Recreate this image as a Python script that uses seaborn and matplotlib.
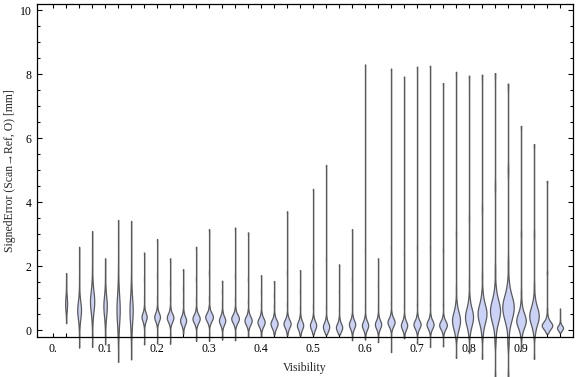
import numpy as np
import matplotlib.pyplot as plt
import seaborn as sns

# visibility bins (one violin each)
visibility = [0.025, 0.05, 0.075, 0.1, 0.125, 0.15, 0.175, 0.2, 0.225, 0.25,
              0.275, 0.3, 0.325, 0.35, 0.375, 0.4, 0.425, 0.45, 0.475, 0.5,
              0.525, 0.55, 0.575, 0.6, 0.625, 0.65, 0.675, 0.7, 0.725, 0.75,
              0.775, 0.8, 0.825, 0.85, 0.875, 0.9, 0.925, 0.95, 0.975]

# signed error levels [mm], min ... max
signed_error = [
    [0.22, 0.45, 0.6, 0.72, 0.84, 0.96, 1.1, 1.28, 1.45, 1.62, 1.79],
    [-0.54, 0.05, 0.3, 0.48, 0.63, 0.78, 0.95, 1.2, 1.6, 2.1, 2.61],
    [-0.52, 0.2, 0.5, 0.72, 0.9, 1.08, 1.3, 1.6, 2.0, 2.5, 3.10],
    [-0.44, 0.1, 0.38, 0.58, 0.75, 0.92, 1.1, 1.35, 1.65, 1.95, 2.25],
    [-0.99, -0.3, 0.1, 0.4, 0.65, 0.9, 1.2, 1.6, 2.1, 2.8, 3.45],
    [-0.91, -0.25, 0.1, 0.4, 0.62, 0.85, 1.15, 1.55, 2.1, 2.8, 3.42],
    [-0.44, 0.15, 0.26, 0.35, 0.42, 0.49, 0.58, 0.72, 1.0, 1.6, 2.43],
    [-0.41, 0.17, 0.27, 0.35, 0.42, 0.49, 0.58, 0.72, 1.0, 1.7, 2.85],
    [-0.42, 0.15, 0.25, 0.33, 0.40, 0.47, 0.56, 0.7, 1.0, 1.5, 2.25],
    [-0.10, 0.06, 0.16, 0.24, 0.31, 0.38, 0.47, 0.6, 0.9, 1.3, 1.91],
    [-0.33, 0.12, 0.22, 0.30, 0.37, 0.44, 0.53, 0.67, 0.95, 1.6, 2.61],
    [-0.33, 0.17, 0.27, 0.35, 0.42, 0.49, 0.58, 0.72, 1.0, 1.8, 3.16],
    [-0.29, 0.06, 0.16, 0.24, 0.31, 0.38, 0.47, 0.6, 0.85, 1.2, 1.55],
    [-0.31, 0.12, 0.22, 0.30, 0.37, 0.44, 0.53, 0.67, 0.95, 1.7, 3.21],
    [-0.21, 0.06, 0.16, 0.24, 0.31, 0.38, 0.47, 0.6, 0.9, 1.6, 3.06],
    [-0.19, 0.01, 0.11, 0.19, 0.26, 0.33, 0.42, 0.55, 0.8, 1.2, 1.72],
    [-0.13, -0.04, 0.06, 0.14, 0.21, 0.28, 0.37, 0.5, 0.75, 1.1, 1.54],
    [-0.15, -0.04, 0.06, 0.14, 0.21, 0.28, 0.37, 0.5, 0.8, 1.8, 3.72],
    [-0.16, -0.09, 0.01, 0.09, 0.16, 0.23, 0.32, 0.45, 0.7, 1.2, 1.88],
    [-0.13, -0.09, 0.01, 0.09, 0.16, 0.23, 0.32, 0.45, 0.75, 2.0, 4.42],
    [-0.13, -0.08, -0.02, 0.05, 0.12, 0.19, 0.28, 0.41, 0.7, 2.2, 5.17],
    [-0.13, -0.08, -0.03, 0.04, 0.10, 0.17, 0.26, 0.39, 0.65, 1.2, 2.06],
    [-0.31, -0.06, 0.04, 0.12, 0.19, 0.26, 0.35, 0.48, 0.75, 1.6, 3.16],
    [-0.29, -0.09, 0.01, 0.09, 0.16, 0.23, 0.32, 0.45, 0.75, 2.5, 8.31],
    [-0.37, -0.06, 0.04, 0.12, 0.19, 0.26, 0.35, 0.48, 0.75, 1.4, 2.25],
    [-0.68, 0.01, 0.11, 0.19, 0.26, 0.33, 0.42, 0.55, 0.85, 2.6, 8.18],
    [-0.25, -0.09, 0.01, 0.09, 0.16, 0.23, 0.32, 0.45, 0.75, 2.4, 7.93],
    [-0.41, -0.06, 0.04, 0.12, 0.19, 0.26, 0.35, 0.48, 0.8, 2.6, 8.24],
    [-0.52, -0.06, 0.04, 0.12, 0.19, 0.26, 0.35, 0.48, 0.8, 2.6, 8.27],
    [-0.50, -0.08, 0.02, 0.10, 0.17, 0.24, 0.33, 0.46, 0.8, 2.5, 7.73],
    [-0.86, -0.2, 0.0, 0.16, 0.31, 0.45, 0.62, 0.85, 1.3, 3.0, 8.08],
    [-0.70, -0.12, 0.1, 0.27, 0.42, 0.57, 0.75, 1.0, 1.5, 3.5, 7.96],
    [-0.89, -0.15, 0.15, 0.35, 0.52, 0.68, 0.88, 1.15, 1.7, 3.8, 7.99],
    [-1.46, -0.3, 0.15, 0.4, 0.6, 0.78, 1.0, 1.3, 1.9, 4.5, 8.04],
    [-1.46, -0.35, 0.2, 0.48, 0.7, 0.9, 1.12, 1.45, 2.1, 5.0, 7.71],
    [-0.63, -0.15, 0.05, 0.19, 0.31, 0.44, 0.6, 0.82, 1.2, 3.0, 6.39],
    [-0.89, -0.12, 0.12, 0.3, 0.45, 0.6, 0.78, 1.0, 1.4, 3.0, 5.82],
    [-0.10, -0.05, 0.03, 0.10, 0.16, 0.23, 0.32, 0.45, 0.65, 1.8, 4.67],
    [-0.08, -0.04, 0.0, 0.04, 0.08, 0.12, 0.17, 0.24, 0.35, 0.5, 0.68],
]

# how many samples sit at each of the levels above
level_counts = [1, 2, 4, 7, 8, 7, 4, 2, 1, 1, 1]

# relative sample weight of each bin
rel_weight = [0.17, 0.33, 0.37, 0.30, 0.28, 0.28, 0.45, 0.50, 0.58, 0.53,
              0.63, 0.67, 0.55, 0.67, 0.63, 0.63, 0.62, 0.62, 0.55, 0.55,
              0.55, 0.55, 0.55, 0.55, 0.55, 0.62, 0.55, 0.62, 0.62, 0.67,
              0.70, 0.70, 0.78, 0.88, 1.00, 0.83, 0.83, 0.92, 0.53]

xtick_vals = [0.0, 0.1, 0.2, 0.3, 0.4, 0.5, 0.6, 0.7, 0.8, 0.9]
xtick_labels = ["0.", "0.1", "0.2", "0.3", "0.4", "0.5", "0.6", "0.7", "0.8", "0.9"]
ytick_vals = [0, 2, 4, 6, 8, 10]

sns.set_style("ticks")
plt.rcParams["font.family"] = ["Liberation Serif", "DejaVu Serif"]

fig = plt.figure(figsize=(5.76, 3.77), dpi=100)
ax = fig.add_axes([37 / 576, 40 / 377, 536 / 576, 333 / 377])


def iqr_bw(kde):
    # bandwidth tied to the interquartile range, so long tails don't blur the bulb
    d = kde.dataset.ravel()
    q1, q3 = np.percentile(d, [25, 75])
    return 0.55 * (q3 - q1) / d.std(ddof=1)


for pos, levels, w in zip(visibility, signed_error, rel_weight):
    vals = np.repeat(levels, level_counts)
    sns.violinplot(x=np.full(len(vals), pos), y=vals, native_scale=True, orient="x",
                   ax=ax, width=0.022 * w, density_norm="width", cut=0,
                   bw_method=iqr_bw, gridsize=500, inner=None,
                   color="#CBD2F7", saturation=1, linecolor="#5a5a5a", linewidth=0.9)

for c in ax.collections:
    c.set_clip_on(False)

ax.set_xlim(-0.031, 1.0)
ax.set_ylim(-0.21, 10.2)
ax.set_xticks(xtick_vals)
ax.set_xticklabels(xtick_labels)
ax.set_xticks(np.arange(0.025, 1.0, 0.025), minor=True)
ax.set_yticks(ytick_vals)
ax.set_yticklabels([str(v) for v in ytick_vals])
ax.set_yticks(np.arange(0.5, 10.0, 0.5), minor=True)

ax.tick_params(axis="both", which="both", direction="in", top=True, right=True,
               width=0.8, color="black", labelsize=8.5, labelcolor="black")
ax.tick_params(axis="x", which="both", length=2.6, pad=4.5)
ax.tick_params(axis="y", which="major", length=3.8, pad=3.8)
ax.tick_params(axis="y", which="minor", length=1.9)
for s in ax.spines.values():
    s.set_linewidth(0.9)
    s.set_color("black")

ax.set_xlabel("Visibility", fontsize=8.5, labelpad=5)
ax.set_ylabel("SignedError (Scan\u2192Ref, O) [mm]", fontsize=8.5, labelpad=3)

fig.savefig("out.png", dpi=100)
